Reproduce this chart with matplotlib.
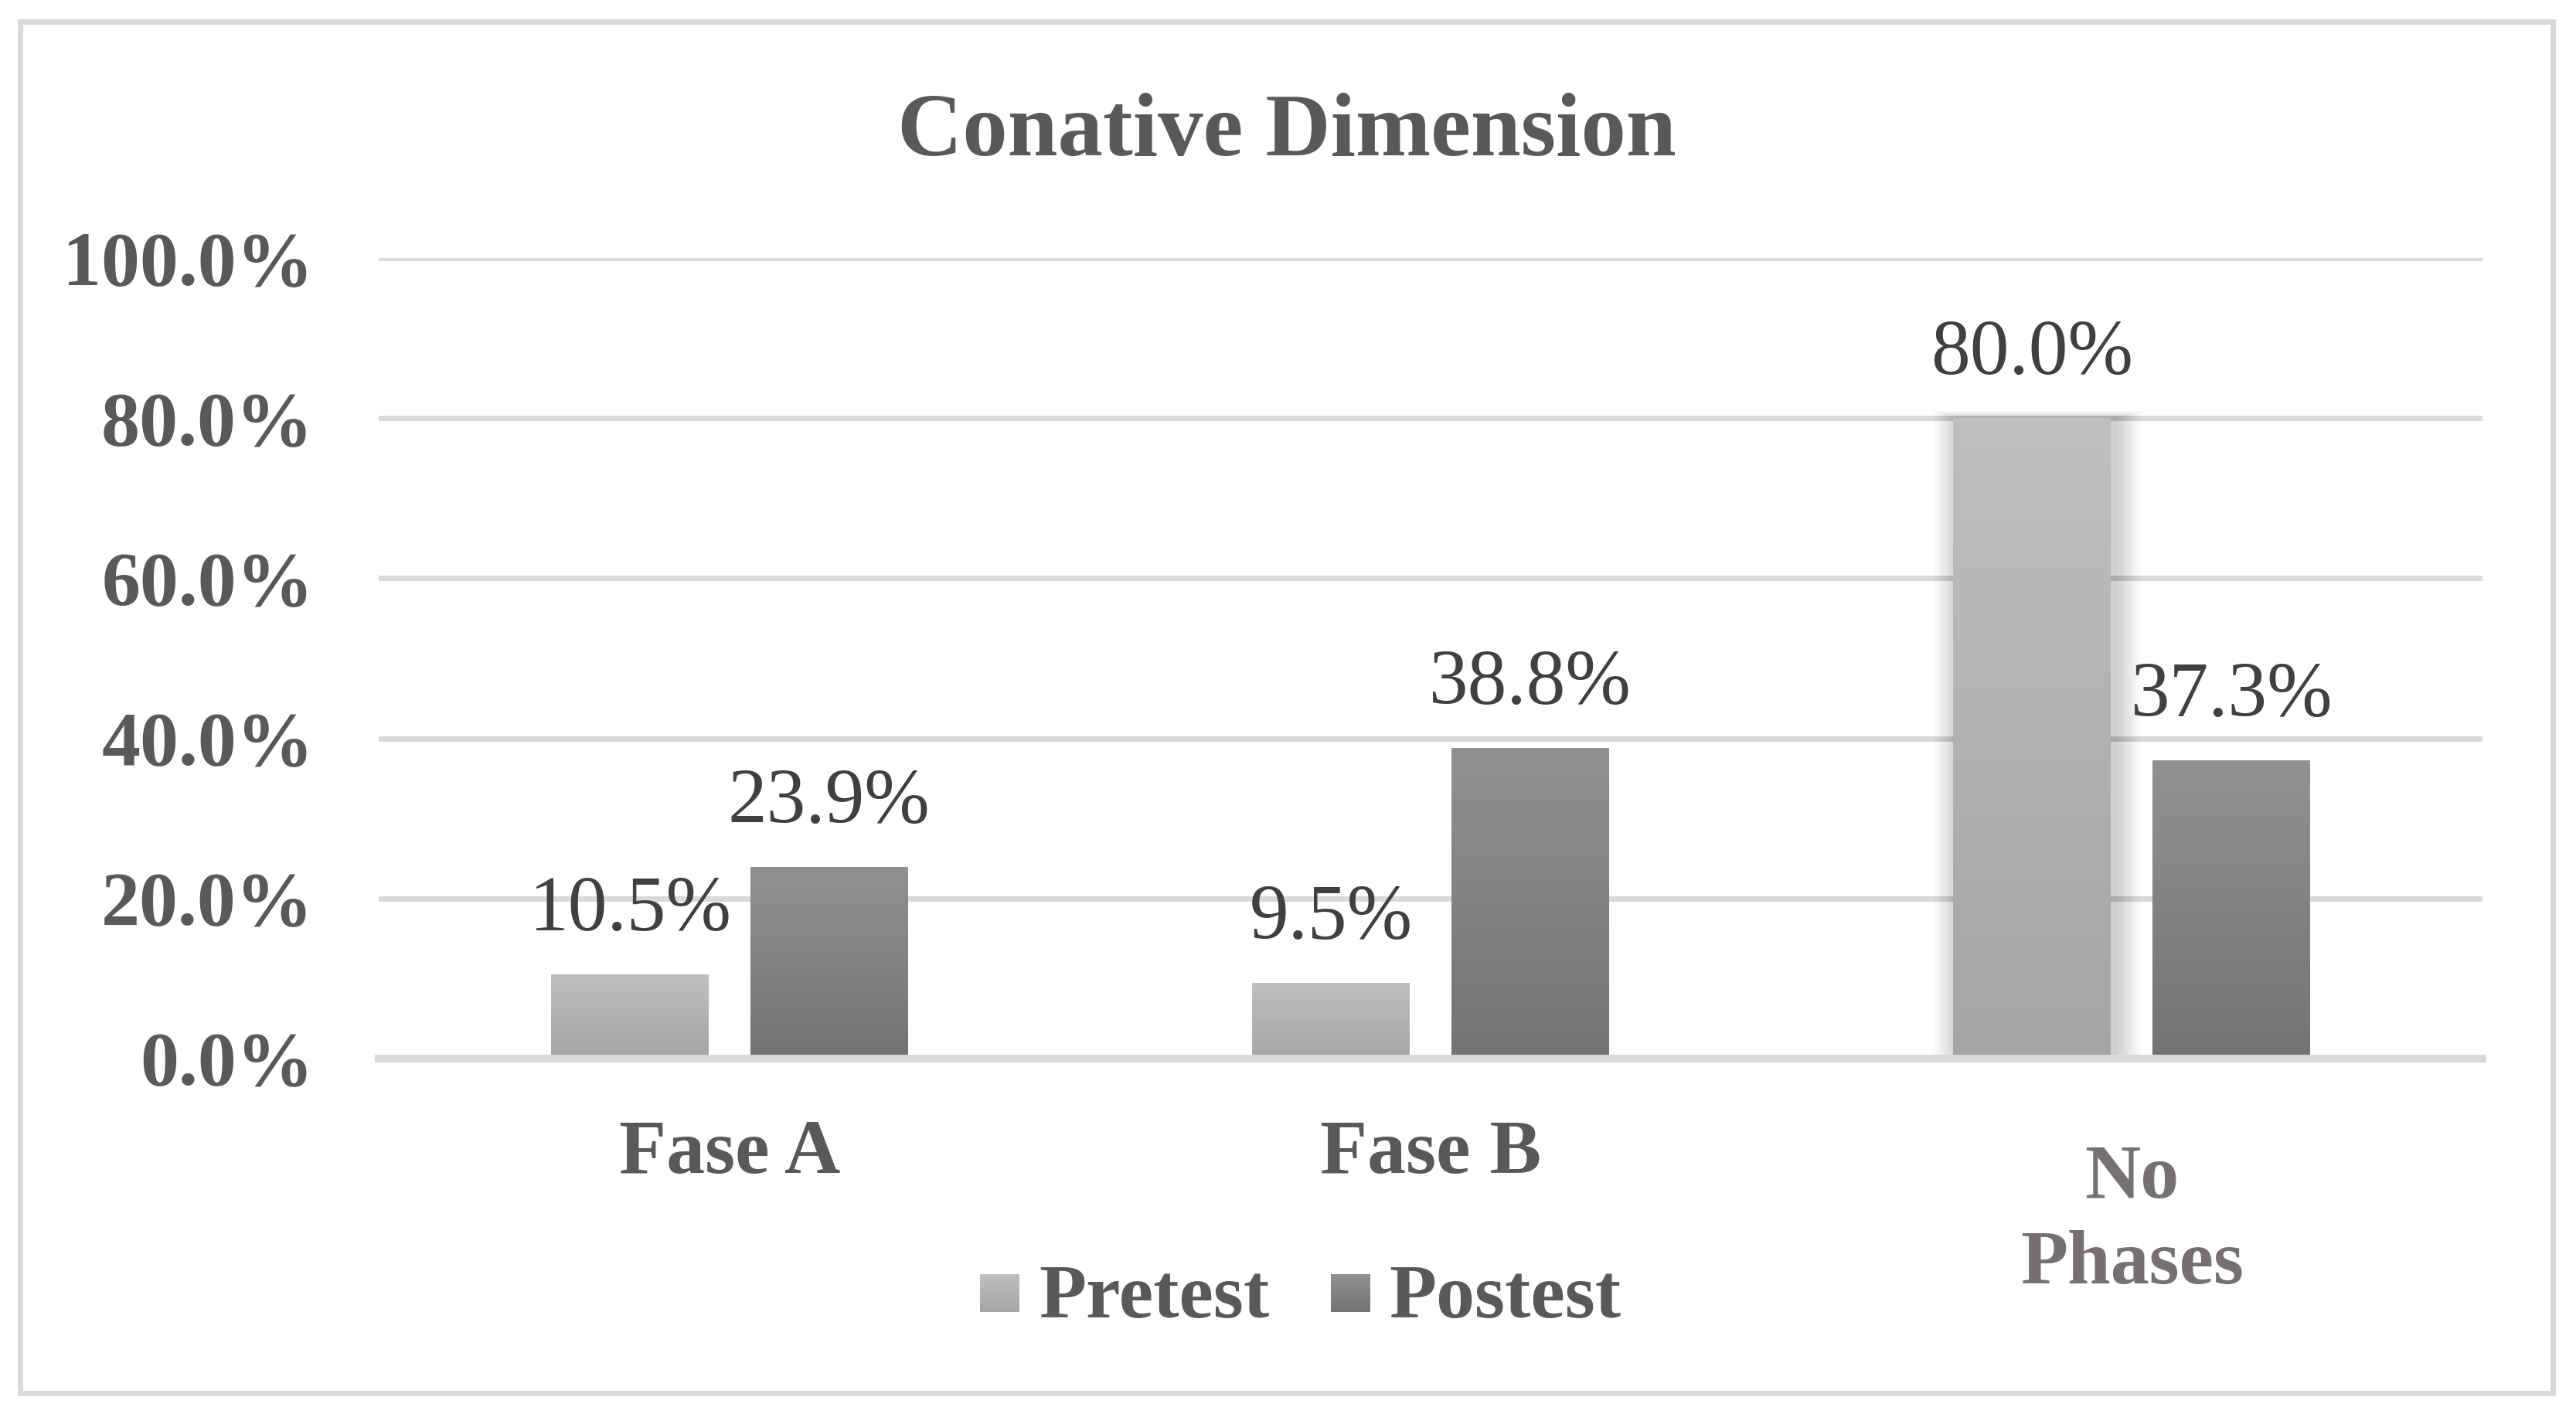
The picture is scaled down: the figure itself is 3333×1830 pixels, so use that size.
import numpy as np
import matplotlib
matplotlib.use('Agg')
import matplotlib.pyplot as plt
from matplotlib.patches import Rectangle
from matplotlib.colors import LinearSegmentedColormap

# ---------------- data ----------------
categories = ['Fase A', 'Fase B', 'No\nPhases']
series_names = ['Pretest', 'Postest']
pretest = [10.5, 9.5, 80.0]
postest = [23.9, 38.8, 37.3]
yticks = [0, 20, 40, 60, 80, 100]
ytick_labels = ['0.0%', '20.0%', '40.0%', '60.0%', '80.0%', '100.0%']

# ---------------- style ----------------
W, H = 3333, 1830
DPI = 100
PX = 72 / DPI  # points per pixel

grad_colors = [('#bfbfbf', '#a5a5a5'), ('#919191', '#737373')]
cat_colors = ['#595959', '#595959', '#767171']
# baseline (of last line) distance below the axis, in pixels
cat_baseline_px = [148, 148, 291]
shadow_bars = {(0, 2)}

plt.rcParams['font.family'] = ['Liberation Serif', 'DejaVu Serif']

fig = plt.figure(figsize=(W / DPI, H / DPI), dpi=DPI)
fig.patch.set_facecolor('white')

left, right, top, bottom = 490, 3212, 334, 1370
ax = fig.add_axes([left / W, 1 - bottom / H, (right - left) / W, (bottom - top) / H])
ax.set_facecolor('none')

x = np.arange(len(categories))
px_x = 1.0 / ((right - left) / 3.0)      # data units per pixel (x)
px_y = 100.0 / (bottom - top)            # data units per pixel (y)
bar_w = 204 * px_x
offset = 129 * px_x

series = [pretest, postest]
for si, vals in enumerate(series):
    cmap = LinearSegmentedColormap.from_list('g%d' % si, list(grad_colors[si]))
    bars = ax.bar(x + (2 * si - 1) * offset, vals, width=bar_w,
                  color=grad_colors[si][1], edgecolor='none', zorder=3)
    for ci, b in enumerate(bars):
        x0, w, h = b.get_x(), b.get_width(), b.get_height()
        if (si, ci) in shadow_bars:
            n = 16
            for k in range(n):
                s = (k + 1) * 2.0
                r = Rectangle((x0 - s * px_x + 7 * px_x, 0), w + 2 * s * px_x,
                              h + s * 0.3 * px_y, facecolor='black',
                              edgecolor='none', alpha=0.013, zorder=2.5)
                ax.add_patch(r)
        grad = np.linspace(0, 1, 256)[:, None]
        im = ax.imshow(grad, cmap=cmap, extent=[x0, x0 + w, 0, h], origin='upper',
                       aspect='auto', zorder=3.2, interpolation='bilinear')
        im.set_clip_path(b)
        ax.annotate(f'{vals[ci]:.1f}%', xy=(x0 + w / 2, h), xytext=(0, 57 * PX),
                    textcoords='offset points', ha='center', va='baseline',
                    fontsize=73, color='#404040', zorder=6)

ax.set_xlim(-0.5, 2.5)
ax.set_ylim(0, 100)

ax.set_yticks(yticks, ytick_labels, fontweight='bold')
ax.tick_params(axis='y', length=0, pad=(left - 406) * PX, labelsize=72,
               labelcolor='#595959')
ax.set_xticks([])
ax.yaxis.grid(True, color='#d9d9d9', lw=7 * PX, zorder=1)
ax.set_axisbelow(True)
for sp in ['top', 'right', 'left']:
    ax.spines[sp].set_visible(False)
ax.spines['bottom'].set_color('#d9d9d9')
ax.spines['bottom'].set_linewidth(10 * PX)
ax.spines['bottom'].set_zorder(5)

for ci, cat in enumerate(categories):
    ax.annotate(cat, xy=(x[ci], 0), xycoords=('data', 'axes fraction'),
                xytext=(0, -cat_baseline_px[ci] * PX), textcoords='offset points',
                ha='center', va='baseline', fontsize=72, fontweight='bold',
                color=cat_colors[ci], linespacing=1.30, multialignment='center')

# title
fig.text(1665 / W, 1 - 201 / H, 'Conative Dimension', ha='center', va='baseline',
         fontsize=84, fontweight='bold', color='#595959')

# overlay for legend and chart border (pixel coordinates)
ov = fig.add_axes([0, 0, 1, 1], zorder=10)
ov.set_xlim(0, W)
ov.set_ylim(H, 0)
ov.axis('off')
ov.patch.set_alpha(0)

leg_marker_x = [1268, 1722]
leg_text_x = [1344, 1797]
for si, name in enumerate(series_names):
    cmap = LinearSegmentedColormap.from_list('l%d' % si, list(grad_colors[si]))
    mx = leg_marker_x[si]
    ov.imshow(np.linspace(0, 1, 64)[:, None], cmap=cmap,
              extent=[mx, mx + 51, 1698, 1649], origin='upper', aspect='auto')
    ov.text(leg_text_x[si], 1705, name, ha='left', va='baseline', fontsize=72,
            fontweight='bold', color='#595959')
ov.set_xlim(0, W)
ov.set_ylim(H, 0)

ov.add_patch(Rectangle((26, 28), 3303 - 26, 1803 - 28, facecolor='none',
                       edgecolor='#d9d9d9', lw=7 * PX))

fig.savefig('out.png', dpi=DPI, facecolor='white')
